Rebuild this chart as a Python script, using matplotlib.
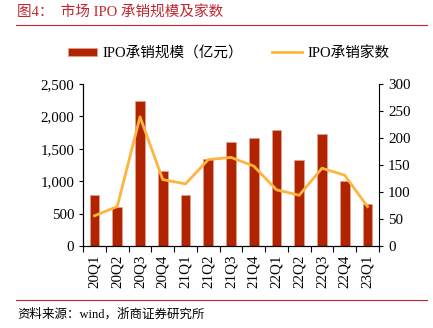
import matplotlib.pyplot as plt
import matplotlib.ticker as mticker
import numpy as np

plt.rcParams['font.family'] = ['Liberation Serif', 'Noto Sans CJK SC']

quarters = ['20Q1', '20Q2', '20Q3', '20Q4', '21Q1', '21Q2', '21Q3',
            '21Q4', '22Q1', '22Q2', '22Q3', '22Q4', '23Q1']
ipo_amount = [780, 600, 2240, 1150, 780, 1350, 1610, 1670, 1790, 1320, 1730, 1010, 650]
ipo_count = [56, 73, 239, 123, 115, 160, 164, 148, 104, 94, 144, 131, 73]

bar_color = '#B02400'
line_color = '#FFB43F'
red = '#C0272D'

fig = plt.figure(figsize=(4.33, 3.28), dpi=100)
ax = fig.add_axes([0.192, 0.25, 0.683, 0.494])
ax2 = ax.twinx()

x = np.arange(len(quarters))
ax.bar(x, ipo_amount, width=0.42, color=bar_color, edgecolor='#E8A090', linewidth=0.5,
       label='IPO承销规模（亿元）', zorder=2)
ax2.plot(x, ipo_count, color=line_color, linewidth=2, label='IPO承销家数', zorder=3)

ax.set_xlim(-0.5, len(quarters) - 0.5)
ax.set_ylim(0, 2500)
ax2.set_ylim(0, 300)
ax.yaxis.set_major_locator(mticker.MultipleLocator(500))
ax.yaxis.set_major_formatter(mticker.FuncFormatter(lambda v, p: f'{int(v):,}'))
ax2.yaxis.set_major_locator(mticker.MultipleLocator(50))

for a in (ax, ax2):
    a.spines['top'].set_visible(False)
    for s in a.spines.values():
        s.set_linewidth(0.8)
        s.set_color('black')
    a.tick_params(labelsize=10.8, length=3, width=0.8, direction='out')
ax.spines['right'].set_visible(False)

ax.set_xticks(x)
ax.set_xticklabels(quarters, rotation=90)
ax.tick_params(axis='x', length=0, pad=6)
ax.set_xticks(np.arange(-0.5, len(quarters), 1), minor=True)
ax.tick_params(axis='x', which='minor', length=4, width=0.8)

h1, l1 = ax.get_legend_handles_labels()
h2, l2 = ax2.get_legend_handles_labels()
fig.legend(h1 + h2, l1 + l2, loc='center', bbox_to_anchor=(0.528, 0.838), ncol=2,
           frameon=False, fontsize=10.5, handlelength=2.0, handleheight=0.5,
           columnspacing=2.0, handletextpad=0.4)

# header and footer
fig.text(0.04, 0.962, '图4：  市场 IPO 承销规模及家数', color=red, fontsize=10.5,
         va='center', ha='left')
fig.add_artist(plt.Line2D([0.038, 0.985], [0.923, 0.923], color=red, linewidth=0.8))
fig.add_artist(plt.Line2D([0.038, 0.985], [0.085, 0.085], color=red, linewidth=0.8))
fig.text(0.04, 0.042, '资料来源：wind，浙商证券研究所', fontsize=9, va='center', ha='left')

fig.savefig('out.png', dpi=100)
